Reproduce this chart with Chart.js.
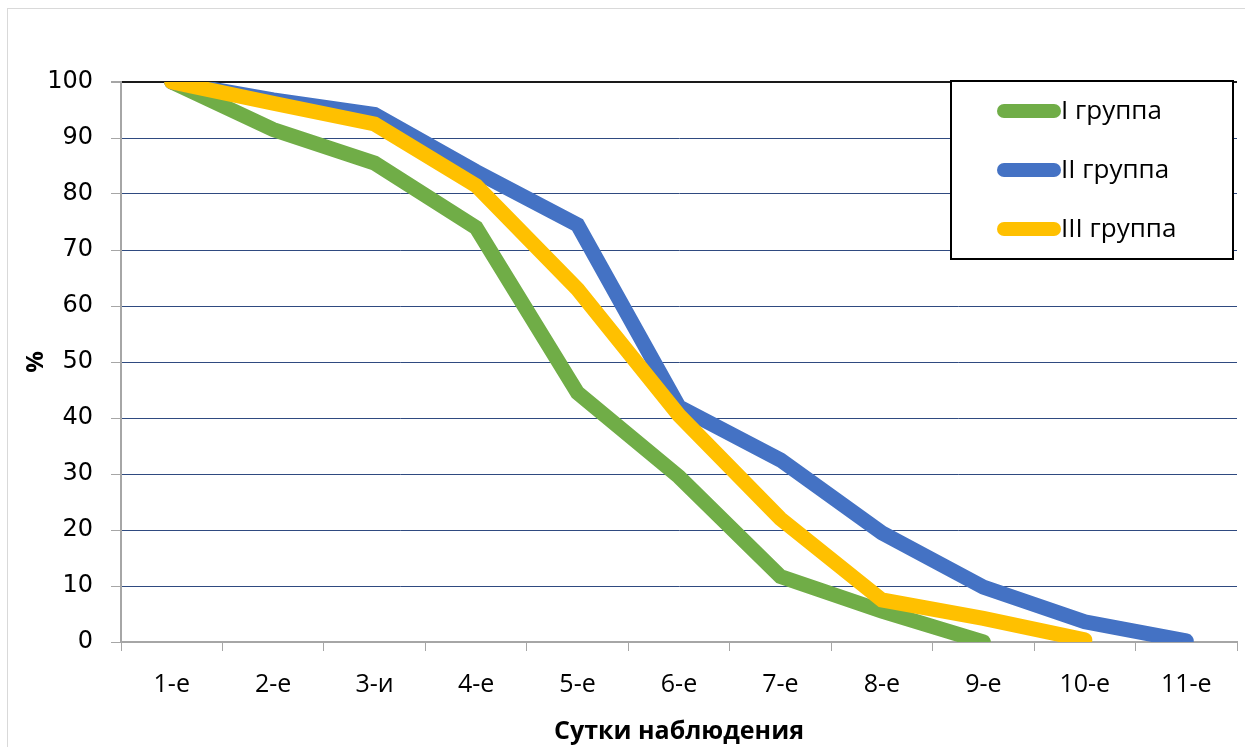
<!DOCTYPE html>
<html>
<head>
<meta charset="utf-8">
<script src="https://cdn.jsdelivr.net/npm/chart.js@4"></script>
<style>
html,body{margin:0;padding:0;background:#fff;}
#wrap{position:relative;width:1245px;height:747px;}
</style>
</head>
<body>
<div id="wrap"><canvas id="c" width="1245" height="747"></canvas></div>
<script>
const categories = ['1-е','2-е','3-и','4-е','5-е','6-е','7-е','8-е','9-е','10-е','11-е'];
const group1 = [100, 91.5, 85.5, 74, 44.5, 29.5, 11.7, 5.5, 0, null, null];
const group2 = [100, 96.8, 94.2, 84, 74.5, 42, 32.5, 19.5, 9.8, 3.6, 0.2];
const group3 = [100, 96.2, 92.5, 81.5, 63, 40.5, 22, 7.5, 4.2, 0.4, null];
const seriesNames = ['I группа','II группа','III группа'];
const seriesColors = ['#70AD47','#4472C4','#FFC000'];
const yTicks = [0,10,20,30,40,50,60,70,80,90,100];

function lastIdx(arr){ let k=-1; arr.forEach((v,i)=>{ if(v!==null) k=i; }); return k; }

const markerStyles = ['circle','rectRot','star'];
const drawOrder = [2, 1, 0];
const datasets = [group1, group2, group3].map((d, i) => ({
  label: seriesNames[i],
  data: d,
  order: drawOrder[i],
  borderColor: seriesColors[i],
  backgroundColor: seriesColors[i],
  borderWidth: 15,
  borderCapStyle: 'round',
  borderJoinStyle: 'miter',
  tension: 0,
  spanGaps: false,
  pointStyle: markerStyles[i],
  pointRadius: ctx => (ctx.dataIndex === lastIdx(d) ? 5 : 0),
  pointBorderWidth: 1,
  pointHoverRadius: 0
}));

const frame = {
  id: 'frame',
  afterDraw(chart) {
    const c = chart.ctx;
    c.save();
    c.strokeStyle = '#D9D9D9';
    c.lineWidth = 1;
    c.strokeRect(7.5, 8.5, 1240, 745);
    const L = 950, T = 80, W = 284, H = 180;
    c.fillStyle = '#fff';
    c.fillRect(L, T, W, H);
    c.strokeStyle = '#000';
    c.lineWidth = 2;
    c.strokeRect(L + 1, T + 1, W - 2, H - 2);
    c.font = '26px "Open Sans", "Liberation Sans", sans-serif';
    c.textBaseline = 'middle';
    c.textAlign = 'left';
    chart.data.datasets.forEach((ds, i) => {
      const y = T + 31 + i * 59;
      c.strokeStyle = ds.borderColor;
      c.lineWidth = 14;
      c.lineCap = 'round';
      c.beginPath();
      c.moveTo(1004, y);
      c.lineTo(1054, y);
      c.stroke();
      c.fillStyle = '#000';
      c.fillText(ds.label, 1061, y + 1);
    });
    c.restore();
  }
};

new Chart(document.getElementById('c'), {
  type: 'line',
  data: { labels: categories, datasets },
  plugins: [frame],
  options: {
    responsive: false,
    animation: false,
    layout: { padding: { top: 82, right: 8, left: 22, bottom: 0 } },
    plugins: { legend: { display: false }, tooltip: { enabled: false } },
    scales: {
      x: {
        offset: true,
        grid: { offset: true, drawOnChartArea: false, drawTicks: true, tickLength: 9, color: '#A6A6A6', lineWidth: 1 },
        border: { display: true, color: '#A6A6A6', width: 2 },
        ticks: { color: '#000', padding: 19, font: { family: '"Open Sans", "Liberation Sans", sans-serif', size: 25 } },
        title: { display: true, text: 'Сутки наблюдения', color: '#000', padding: { top: 8, bottom: 0 },
                 font: { family: '"Open Sans", "Liberation Sans", sans-serif', size: 25, weight: 'bold' } },
        afterFit(axis) { axis.height = 105; }
      },
      y: {
        min: 0, max: 100,
        afterBuildTicks(axis) { axis.ticks = yTicks.map(v => ({ value: v })); },
        grid: { color: ctx => (ctx.tick && ctx.tick.value === 100 ? '#1a1a1a' : '#2F4A80'), lineWidth: ctx => (ctx.tick && ctx.tick.value === 100 ? 2 : 1),
                tickColor: '#A6A6A6', tickLength: 10, drawTicks: true },
        border: { display: true, color: '#A6A6A6', width: 2 },
        ticks: { color: '#000', padding: 18, font: { family: '"DejaVu Sans", sans-serif', size: 24 } },
        title: { display: true, text: '%', color: '#000', padding: { top: 0, bottom: 0 },
                 font: { family: '"Open Sans", "Liberation Sans", sans-serif', size: 24, weight: 'bold' } },
        afterFit(axis) { axis.width = 99; }
      }
    }
  }
});
</script>
</body>
</html>
